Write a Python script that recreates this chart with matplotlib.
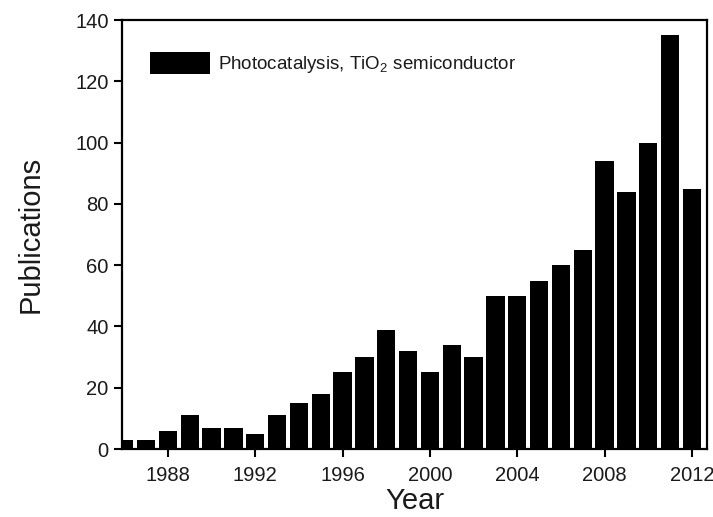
import matplotlib.pyplot as plt

plt.rcParams['font.family'] = ['Liberation Sans', 'DejaVu Sans']
plt.rcParams['mathtext.default'] = 'regular'

# Publications per year
years = list(range(1986, 2013))
publications = [3, 3, 6, 11, 7, 7, 5, 11, 15, 18, 25, 30, 39, 32, 25, 34, 30,
                50, 50, 55, 60, 65, 94, 84, 100, 135, 85]
xticks = [1988, 1992, 1996, 2000, 2004, 2008, 2012]
yticks = [0, 20, 40, 60, 80, 100, 120, 140]

text_col = '#1a1a1a'

fig = plt.figure(figsize=(7.13, 5.17), dpi=100)
ax = fig.add_axes([0.171, 0.1315, 0.8206, 0.8295])

ax.bar(years, publications, width=0.84, color='black',
       label='Photocatalysis, TiO$_2$ semiconductor')

ax.set_xlim(1985.89, 2012.69)
ax.set_ylim(0, 140)
ax.set_xticks(xticks)
ax.set_yticks(yticks)
ax.tick_params(axis='both', direction='out', length=6, width=1.5,
               labelsize=14.5, labelcolor=text_col)
ax.tick_params(axis='x', pad=6)
for sp in ax.spines.values():
    sp.set_linewidth(1.6)

ax.set_xlabel('Year', fontsize=21, labelpad=2, color=text_col)
ax.set_ylabel('Publications', fontsize=21, labelpad=22, color=text_col)

leg = ax.legend(loc='upper left', frameon=False, fontsize=13.5,
                handlelength=3.2, handleheight=1.4, handletextpad=0.4,
                bbox_to_anchor=(0.02, 0.965))
for t in leg.get_texts():
    t.set_color(text_col)

fig.savefig('out.png', dpi=100)
